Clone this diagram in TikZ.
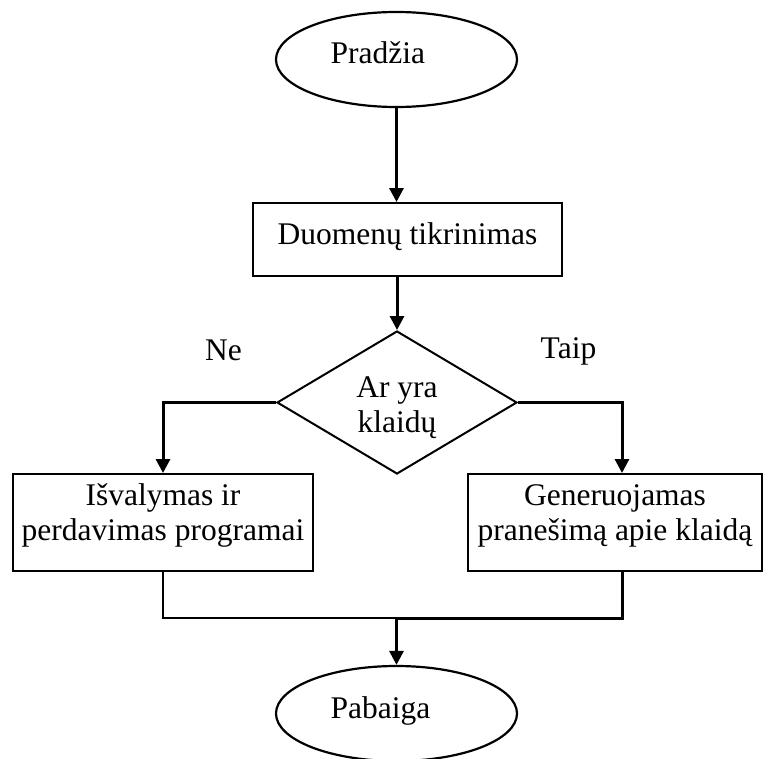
\documentclass[tikz,border=0pt]{standalone}
\usepackage{fontspec}
\setmainfont{Liberation Serif}
\usetikzlibrary{shapes.geometric,arrows.meta}
\begin{document}
\begin{tikzpicture}[x=1pt,y=-1pt,
  every node/.style={font=\fontsize{31.5}{35}\selectfont},
  terminal/.style={draw,ellipse,line width=2.2pt,minimum width=241pt,minimum height=95pt,inner sep=0pt},
  process/.style={draw,rectangle,line width=2pt,inner sep=0pt,align=center},
  decision/.style={draw,diamond,line width=2pt,inner sep=0pt,aspect=1.68,
    minimum width=240pt,minimum height=143pt,align=center},
  flow/.style={line width=3pt,-{Triangle[width=14pt,length=14pt]}},
  thinjoin/.style={line width=2pt},
  thickjoin/.style={line width=3pt}]
\useasboundingbox (0,0) rectangle (763,758);

% start / end terminals with their captions
\node[terminal] (start) at (396.5,59.5) {};
\node[anchor=base west] (starttxt) at (327,63) {Pradžia};
\node[terminal] (end) at (396.5,713.5) {};
\node[anchor=base west] (endtxt) at (327,718) {Pabaiga};

% processing steps (text height/depth place the last baseline of each caption)
\node[process,minimum width=309pt,minimum height=73pt,text height=22pt,text depth=13pt]
  (check) at (407.5,239.5) {Duomenų tikrinimas};
\node[decision,text height=74pt,text depth=15pt] (dec) at (397,402.5) {Ar yra\\klaidų};
\node[process,minimum width=300pt,minimum height=97pt,text height=60pt,text depth=25pt]
  (clean) at (163,522.5) {Išvalymas ir\\perdavimas programai};
\node[process,minimum width=294pt,minimum height=97pt,text height=60pt,text depth=25pt]
  (report) at (615,522.5) {Generuojamas\\pranešimą apie klaidą};

% branch labels
\node[anchor=base] (no) at (223.5,360) {Ne};
\node[anchor=base] (yes) at (568.5,358) {Taip};

% connectors
\coordinate (reportin) at ([xshift=7pt]report.north);
\coordinate (reportout) at ([xshift=7pt]report.south);
\coordinate (merge) at (396.5,618);

\draw[flow] (start.south) -- (start.south |- check.north);
\draw[flow] (dec.north |- check.south) -- (dec.north);
\draw[flow] (dec.west) -| (clean.north);
\draw[flow] (dec.east) -| (reportin);
\draw[thinjoin] (clean.south) |- (merge);
\draw[thickjoin] (reportout) |- (merge);
\draw[flow] (merge) -- (end.north);
\end{tikzpicture}
\end{document}
